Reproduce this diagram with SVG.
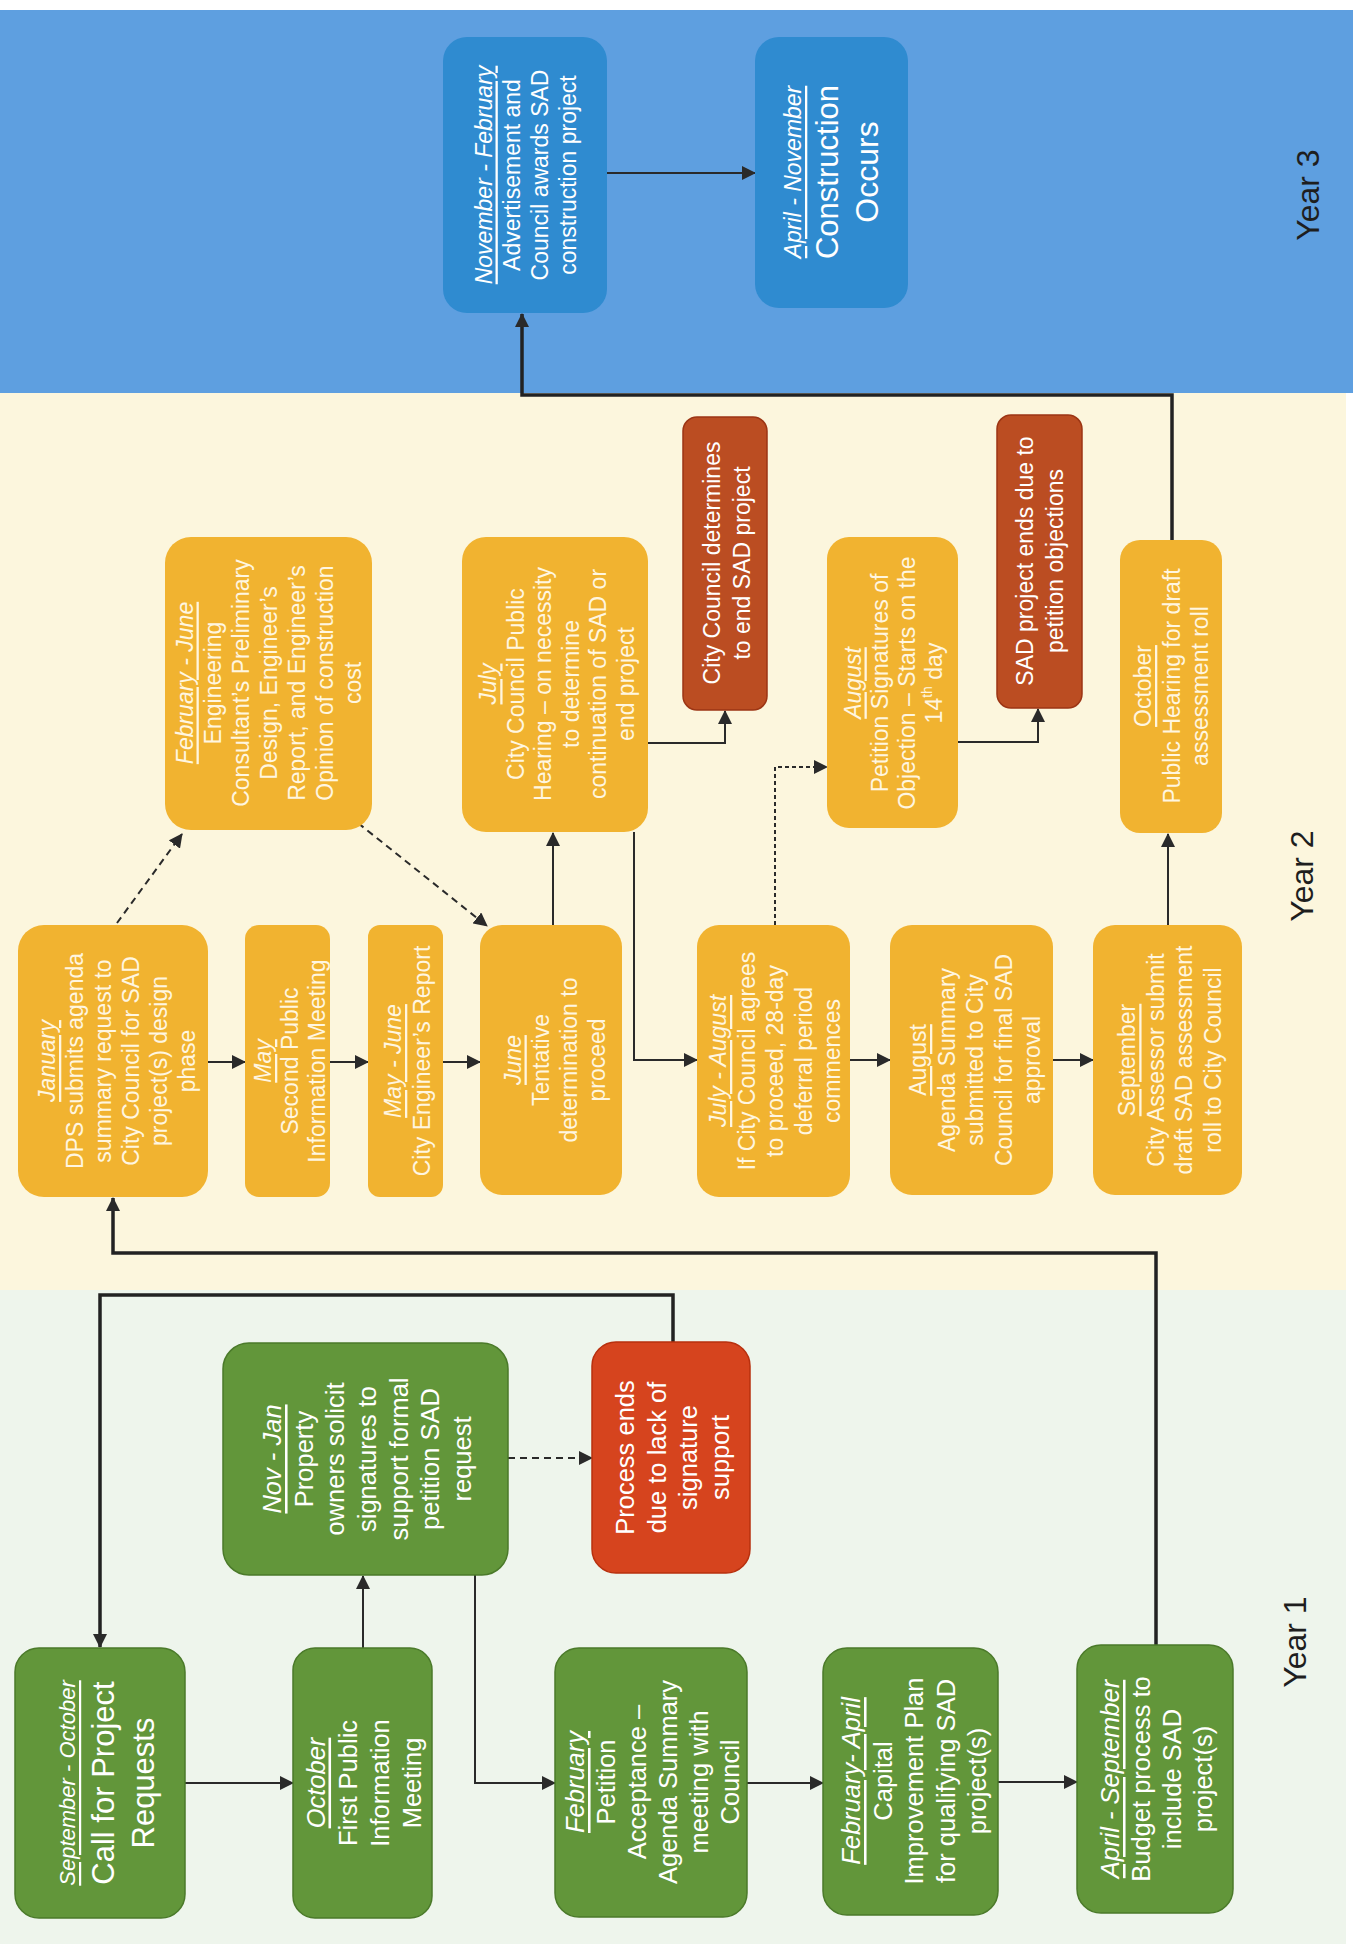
<svg xmlns="http://www.w3.org/2000/svg" width="1363" height="1944" viewBox="0 0 1363 1944">
<style>
.t{font-family:"Liberation Sans",Arial,sans-serif;fill:#ffffff;text-anchor:middle;dominant-baseline:central}
.ty{fill:#fff6e0}
.f23{font-size:23px}
.f26{font-size:25.5px}
.f32{font-size:31px}
.h{font-style:italic;text-decoration:underline}
.hu{text-decoration:underline}
.nb{fill:#2f8bd0}
.ny{fill:#f1b330}
.nr{fill:#bb4d22;stroke:#9c3514;stroke-width:1.5}
.nr2{fill:#d6441e;stroke:#b8300e;stroke-width:1.5}
.ng{fill:#62963a;stroke:#4b7a2a;stroke-width:1.5}
.c{fill:none;stroke:#2a2a2a;stroke-width:2}
.ck{fill:none;stroke:#222;stroke-width:3.5}
.dash{stroke-dasharray:7 5}
.dot{stroke-dasharray:4 3}
.yr{font-family:"Liberation Sans",Arial,sans-serif;font-size:32px;fill:#1e1e1e;text-anchor:middle;dominant-baseline:central}
</style>
<defs>
<marker id="ah" markerUnits="userSpaceOnUse" markerWidth="14" markerHeight="14" viewBox="0 0 14 14" refX="13" refY="7" orient="auto">
<path d="M0,0 L14,7 L0,14 z" fill="#2a2a2a"/>
</marker>
</defs>
<rect x="0" y="0" width="1363" height="1944" fill="#ffffff"/>
<g id="bands">
<rect x="0" y="10" width="1353" height="383" fill="#5e9fe0"/>
<rect x="0" y="393" width="1346" height="897" fill="#fcf6dd"/>
<rect x="0" y="1290" width="1346" height="654" fill="#eef5ec"/>
</g>
<g id="labels">
<text class="yr" transform="translate(1308,195) rotate(-90)">Year 3</text>
<text class="yr" transform="translate(1302,876) rotate(-90)">Year 2</text>
<text class="yr" transform="translate(1295,1642) rotate(-90)">Year 1</text>
</g>
<g id="connectors">
<line class="c" x1="607" y1="173" x2="755" y2="173" marker-end="url(#ah)"/>
<path class="ck" d="M1172,540 V395 H522 V314" marker-end="url(#ah)"/>
<line class="c" x1="208" y1="1062" x2="245" y2="1062" marker-end="url(#ah)"/>
<line class="c" x1="330" y1="1062" x2="368" y2="1062" marker-end="url(#ah)"/>
<line class="c" x1="443" y1="1062" x2="480" y2="1062" marker-end="url(#ah)"/>
<line class="c" x1="553" y1="925" x2="553" y2="833" stroke-width="2.5" marker-end="url(#ah)"/>
<line class="c dash" x1="117" y1="923" x2="182" y2="834" marker-end="url(#ah)"/>
<line class="c dash" x1="358" y1="823" x2="487" y2="926" marker-end="url(#ah)"/>
<path class="c" d="M648,743 H725 V711" marker-end="url(#ah)"/>
<path class="c" d="M634,832 V1060 H697" marker-end="url(#ah)"/>
<path class="c dot" d="M775,925 V767 H827" marker-end="url(#ah)"/>
<path class="c" d="M958,742 H1038 V709" marker-end="url(#ah)"/>
<line class="c" x1="850" y1="1060" x2="890" y2="1060" marker-end="url(#ah)"/>
<line class="c" x1="1053" y1="1060" x2="1093" y2="1060" marker-end="url(#ah)"/>
<line class="c" x1="1168" y1="925" x2="1168" y2="834" stroke-width="2.5" marker-end="url(#ah)"/>
<path class="ck" d="M1156,1645 V1253 H113 V1198" marker-end="url(#ah)"/>
<path class="ck" d="M673,1342 V1295 H100 V1647" marker-end="url(#ah)"/>
<line class="c" x1="185" y1="1783" x2="293" y2="1783" marker-end="url(#ah)"/>
<line class="c" x1="363" y1="1648" x2="363" y2="1576" stroke-width="2.5" marker-end="url(#ah)"/>
<line class="c dash" x1="508" y1="1458" x2="592" y2="1458" marker-end="url(#ah)"/>
<path class="c" d="M475,1575 V1783 H555" marker-end="url(#ah)"/>
<line class="c" x1="747" y1="1783" x2="823" y2="1783" marker-end="url(#ah)"/>
<line class="c" x1="998" y1="1782" x2="1077" y2="1782" marker-end="url(#ah)"/>
</g>
<g id="n-nov-feb">
<rect class="nb" x="443" y="37" width="164" height="276" rx="24"/>
<text class="t f23" transform="translate(525.5,175) rotate(-90)"><tspan class="h" x="0" y="-42">November - February</tspan><tspan x="0" y="-14">Advertisement and</tspan><tspan x="0" y="14">Council awards SAD</tspan><tspan x="0" y="42">construction project</tspan></text>
</g>
<g id="n-construction">
<rect class="nb" x="755" y="37" width="153" height="271" rx="24"/>
<text class="t" transform="translate(831,172) rotate(-90)"><tspan class="h f23" x="0" y="-38">April - November</tspan><tspan class="f32" font-size="32" x="0" y="-4">Construction</tspan><tspan font-size="32" x="0" y="36">Occurs</tspan></text>
</g>
<g id="n-feb-june">
<rect class="ny" x="165" y="537" width="207" height="293" rx="26"/>
<text class="t ty f23" transform="translate(268.5,683) rotate(-90)"><tspan class="h" x="0" y="-84">February - June</tspan><tspan x="0" y="-56">Engineering</tspan><tspan x="0" y="-28">Consultant’s Preliminary</tspan><tspan x="0" y="0">Design, Engineer’s</tspan><tspan x="0" y="28">Report, and Engineer’s</tspan><tspan x="0" y="56">Opinion of construction</tspan><tspan x="0" y="84">cost</tspan></text>
</g>
<g id="n-july">
<rect class="ny" x="462" y="537" width="186" height="295" rx="24"/>
<text class="t ty f23" transform="translate(557,684) rotate(-90)"><tspan class="h" x="0" y="-68.75">July</tspan><tspan x="0" y="-41.25">City Council Public</tspan><tspan x="0" y="-13.75">Hearing – on necessity</tspan><tspan x="0" y="13.75">to determine</tspan><tspan x="0" y="41.25">continuation of SAD or</tspan><tspan x="0" y="68.75">end project</tspan></text>
</g>
<g id="n-council-end">
<rect class="nr" x="683" y="417" width="84" height="293" rx="14"/>
<text class="t f23" transform="translate(727,563) rotate(-90)"><tspan x="0" y="-15">City Council determines</tspan><tspan x="0" y="15">to end SAD project</tspan></text>
</g>
<g id="n-aug-petition">
<rect class="ny" x="827" y="537" width="131" height="291" rx="22"/>
<text class="t ty f23" transform="translate(893,683) rotate(-90)"><tspan class="h" x="0" y="-40.5">August</tspan><tspan x="0" y="-13.5">Petition Signatures of</tspan><tspan x="0" y="13.5">Objection – Starts on the</tspan><tspan x="0" y="40.5">14<tspan font-size="14" dy="-7">th</tspan><tspan dy="7"> day</tspan></tspan></text>
</g>
<g id="n-objections-end">
<rect class="nr" x="997" y="415" width="85" height="293" rx="14"/>
<text class="t f23" transform="translate(1040,561) rotate(-90)"><tspan x="0" y="-15">SAD project ends due to</tspan><tspan x="0" y="15">petition objections</tspan></text>
</g>
<g id="n-october-hearing">
<rect class="ny" x="1120" y="540" width="102" height="293" rx="20"/>
<text class="t ty f23" transform="translate(1171.5,686) rotate(-90)"><tspan class="hu" x="0" y="-28.5">October</tspan><tspan x="0" y="0">Public Hearing for draft</tspan><tspan x="0" y="28.5">assessment roll</tspan></text>
</g>
<g id="n-january">
<rect class="ny" x="18" y="925" width="190" height="272" rx="26"/>
<text class="t ty f23" transform="translate(117,1061) rotate(-90)"><tspan class="h" x="0" y="-70">January</tspan><tspan x="0" y="-42">DPS submits agenda</tspan><tspan x="0" y="-14">summary request to</tspan><tspan x="0" y="14">City Council for SAD</tspan><tspan x="0" y="42">project(s) design</tspan><tspan x="0" y="70">phase</tspan></text>
</g>
<g id="n-may">
<rect class="ny" x="245" y="925" width="85" height="272" rx="14"/>
<text class="t ty f23" transform="translate(290,1061) rotate(-90)"><tspan class="h" x="0" y="-27">May</tspan><tspan x="0" y="0">Second Public</tspan><tspan x="0" y="27">Information Meeting</tspan></text>
</g>
<g id="n-may-june">
<rect class="ny" x="368" y="925" width="75" height="272" rx="12"/>
<text class="t ty f23" transform="translate(407.5,1061) rotate(-90)"><tspan class="h" x="0" y="-14.5">May - June</tspan><tspan x="0" y="14.5">City Engineer’s Report</tspan></text>
</g>
<g id="n-june">
<rect class="ny" x="480" y="925" width="142" height="270" rx="22"/>
<text class="t ty f23" transform="translate(554.5,1060) rotate(-90)"><tspan class="h" x="0" y="-42">June</tspan><tspan x="0" y="-14">Tentative</tspan><tspan x="0" y="14">determination to</tspan><tspan x="0" y="42">proceed</tspan></text>
</g>
<g id="n-july-august">
<rect class="ny" x="697" y="925" width="153" height="272" rx="22"/>
<text class="t ty f23" transform="translate(775,1061) rotate(-90)"><tspan class="h" x="0" y="-57">July - August</tspan><tspan x="0" y="-28.5">If City Council agrees</tspan><tspan x="0" y="0">to proceed, 28-day</tspan><tspan x="0" y="28.5">deferral period</tspan><tspan x="0" y="57">commences</tspan></text>
</g>
<g id="n-august">
<rect class="ny" x="890" y="925" width="163" height="270" rx="22"/>
<text class="t ty f23" transform="translate(975,1060) rotate(-90)"><tspan class="hu" x="0" y="-57">August</tspan><tspan x="0" y="-28.5">Agenda Summary</tspan><tspan x="0" y="0">submitted to City</tspan><tspan x="0" y="28.5">Council for final SAD</tspan><tspan x="0" y="57">approval</tspan></text>
</g>
<g id="n-september">
<rect class="ny" x="1093" y="925" width="149" height="270" rx="22"/>
<text class="t ty f23" transform="translate(1170,1060) rotate(-90)"><tspan class="hu" x="0" y="-42.75">September</tspan><tspan x="0" y="-14.25">City Assessor submit</tspan><tspan x="0" y="14.25">draft SAD assessment</tspan><tspan x="0" y="42.75">roll to City Council</tspan></text>
</g>
<g id="n-call">
<rect class="ng" x="15" y="1648" width="170" height="270" rx="24"/>
<text class="t" transform="translate(100,1783) rotate(-90)"><tspan class="h" font-size="22" x="0" y="-33">September - October</tspan><tspan font-size="31" x="0" y="3">Call for Project</tspan><tspan font-size="31" x="0" y="43">Requests</tspan></text>
</g>
<g id="n-first-public">
<rect class="ng" x="293" y="1648" width="139" height="270" rx="22"/>
<text class="t f26" transform="translate(363.5,1783) rotate(-90)"><tspan class="h" x="0" y="-48">October</tspan><tspan x="0" y="-16">First Public</tspan><tspan x="0" y="16">Information</tspan><tspan x="0" y="48">Meeting</tspan></text>
</g>
<g id="n-nov-jan">
<rect class="ng" x="223" y="1343" width="285" height="232" rx="26"/>
<text class="t f26" transform="translate(367,1459) rotate(-90)"><tspan class="h" x="0" y="-95">Nov - Jan</tspan><tspan x="0" y="-63.3">Property</tspan><tspan x="0" y="-31.7">owners solicit</tspan><tspan x="0" y="0">signatures to</tspan><tspan x="0" y="31.7">support formal</tspan><tspan x="0" y="63.3">petition SAD</tspan><tspan x="0" y="95">request</tspan></text>
</g>
<g id="n-process-ends">
<rect class="nr2" x="592" y="1342" width="158" height="231" rx="24"/>
<text class="t f26" transform="translate(672.5,1457.5) rotate(-90)"><tspan x="0" y="-47.5">Process ends</tspan><tspan x="0" y="-15.8">due to lack of</tspan><tspan x="0" y="15.8">signature</tspan><tspan x="0" y="47.5">support</tspan></text>
</g>
<g id="n-february">
<rect class="ng" x="555" y="1648" width="192" height="269" rx="24"/>
<text class="t f26" transform="translate(652.5,1782) rotate(-90)"><tspan class="h" x="0" y="-77.5">February</tspan><tspan x="0" y="-46.5">Petition</tspan><tspan x="0" y="-15.5">Acceptance –</tspan><tspan x="0" y="15.5">Agenda Summary</tspan><tspan x="0" y="46.5">meeting with</tspan><tspan x="0" y="77.5">Council</tspan></text>
</g>
<g id="n-feb-april">
<rect class="ng" x="823" y="1648" width="175" height="267" rx="24"/>
<text class="t f26" transform="translate(914,1781) rotate(-90)"><tspan class="h" x="0" y="-63">February- April</tspan><tspan x="0" y="-31.5">Capital</tspan><tspan x="0" y="0">Improvement Plan</tspan><tspan x="0" y="31.5">for qualifying SAD</tspan><tspan x="0" y="63">project(s)</tspan></text>
</g>
<g id="n-apr-sep">
<rect class="ng" x="1077" y="1645" width="156" height="268" rx="24"/>
<text class="t f26" transform="translate(1156.5,1779) rotate(-90)"><tspan class="h" x="0" y="-46.5">April - September</tspan><tspan x="0" y="-15.5">Budget process to</tspan><tspan x="0" y="15.5">include SAD</tspan><tspan x="0" y="46.5">project(s)</tspan></text>
</g>
</svg>
